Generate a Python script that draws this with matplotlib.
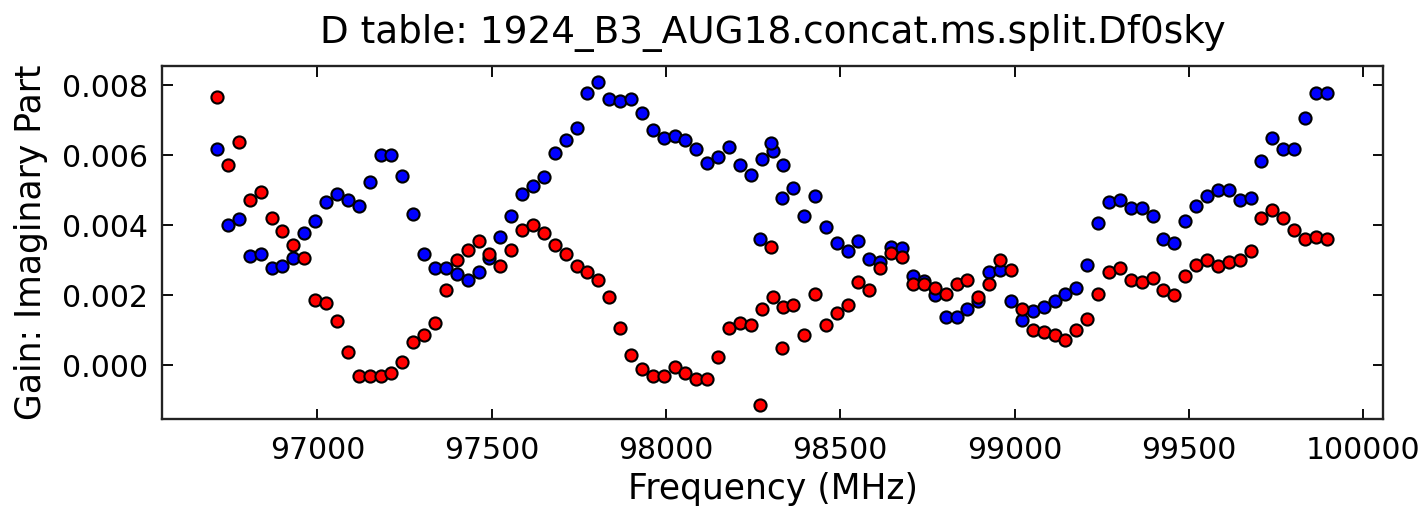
import matplotlib
matplotlib.use('Agg')
import matplotlib.pyplot as plt
from matplotlib.ticker import ScalarFormatter

# channel frequencies (MHz) of the two spectral windows
freq_spw0 = [
    96712.0, 96743.2, 96774.5, 96805.8, 96837.0, 96868.2, 96899.5, 96930.8,
    96962.0, 96993.2, 97024.5, 97055.8, 97087.0, 97118.2, 97149.5, 97180.8,
    97212.0, 97243.2, 97274.5, 97305.8, 97337.0, 97368.2, 97399.5, 97430.8,
    97462.0, 97493.2, 97524.5, 97555.8, 97587.0, 97618.2, 97649.5, 97680.8,
    97712.0, 97743.2, 97774.5, 97805.8, 97837.0, 97868.2, 97899.5, 97930.8,
    97962.0, 97993.2, 98024.5, 98055.8, 98087.0, 98118.2, 98149.5, 98180.8,
    98212.0, 98243.2, 98274.5, 98305.8, 98337.0,
]
freq_spw1 = [
    98271.0, 98302.2, 98333.5, 98364.8, 98396.0, 98427.2, 98458.5, 98489.8,
    98521.0, 98552.2, 98583.5, 98614.8, 98646.0, 98677.2, 98708.5, 98739.8,
    98771.0, 98802.2, 98833.5, 98864.8, 98896.0, 98927.2, 98958.5, 98989.8,
    99021.0, 99052.2, 99083.5, 99114.8, 99146.0, 99177.2, 99208.5, 99239.8,
    99271.0, 99302.2, 99333.5, 99364.8, 99396.0, 99427.2, 99458.5, 99489.8,
    99521.0, 99552.2, 99583.5, 99614.8, 99646.0, 99677.2, 99708.5, 99739.8,
    99771.0, 99802.2, 99833.5, 99864.8, 99896.0,
]

# imaginary part of D-term, units of 1e-3
blue_spw0 = [
    6.17, 4.00, 4.17, 3.12, 3.17, 2.78, 2.83, 3.06, 3.78, 4.11,
    4.67, 4.90, 4.72, 4.55, 5.24, 6.00, 6.00, 5.40, 4.33, 3.17,
    2.78, 2.78, 2.60, 2.44, 2.66, 3.06, 3.66, 4.27, 4.89, 5.11,
    5.39, 6.06, 6.44, 6.77, 7.77, 8.08, 7.61, 7.55, 7.61, 7.22,
    6.72, 6.49, 6.55, 6.44, 6.17, 5.78, 5.95, 6.23, 5.72, 5.44,
    5.89, 6.11, 5.72,
]
red_spw0 = [
    7.67, 5.72, 6.38, 4.72, 4.94, 4.22, 3.84, 3.44, 3.06, 1.88,
    1.77, 1.27, 0.39, -0.29, -0.29, -0.29, -0.22, 0.11, 0.67, 0.88,
    1.22, 2.16, 3.01, 3.29, 3.56, 3.17, 2.84, 3.29, 3.88, 4.00,
    3.78, 3.45, 3.17, 2.84, 2.66, 2.44, 1.95, 1.06, 0.29, -0.10,
    -0.29, -0.29, -0.05, -0.22, -0.40, -0.40, 0.23, 1.06, 1.22, 1.16,
    1.61, 1.94, 1.67,
]
blue_spw1 = [
    3.61, 6.34, 4.78, 5.06, 4.28, 4.84, 3.94, 3.50, 3.28, 3.56,
    3.05, 2.95, 3.39, 3.34, 2.55, 2.41, 2.00, 1.39, 1.39, 1.61,
    1.83, 2.66, 2.72, 1.83, 1.31, 1.55, 1.67, 1.83, 2.05, 2.22,
    2.88, 4.06, 4.67, 4.72, 4.49, 4.49, 4.28, 3.61, 3.50, 4.11,
    4.55, 4.84, 5.01, 5.01, 4.72, 4.78, 5.84, 6.50, 6.17, 6.17,
    7.06, 7.79, 7.79,
]
red_spw1 = [
    -1.12, 3.38, 0.50, 1.72, 0.88, 2.05, 1.16, 1.49, 1.72, 2.38,
    2.16, 2.78, 3.22, 3.11, 2.32, 2.32, 2.22, 2.05, 2.32, 2.44,
    1.94, 2.32, 3.01, 2.72, 1.61, 1.00, 0.94, 0.88, 0.72, 1.00,
    1.33, 2.05, 2.66, 2.78, 2.44, 2.38, 2.49, 2.16, 2.00, 2.55,
    2.88, 3.01, 2.84, 2.95, 3.01, 3.28, 4.22, 4.45, 4.22, 3.88,
    3.61, 3.66, 3.61,
]

title = 'D table: 1924_B3_AUG18.concat.ms.split.Df0sky'


def main():
    dpi = 168
    fig = plt.figure(figsize=(1419 / dpi, 507 / dpi), dpi=dpi)
    ax = fig.add_axes([0.1142, 0.1736, 0.8604, 0.6962])

    for freqs, xvals, yvals in [(freq_spw0, blue_spw0, red_spw0),
                                (freq_spw1, blue_spw1, red_spw1)]:
        ax.scatter(freqs, [v * 1e-3 for v in xvals], s=27, c='b',
                   edgecolors='k', linewidths=0.9, zorder=2)
        ax.scatter(freqs, [v * 1e-3 for v in yvals], s=27, c='r',
                   edgecolors='k', linewidths=0.9, zorder=3)

    ax.set_xlim(96554, 100057)
    ax.set_ylim(-0.00153, 0.00855)
    ax.set_yticks([0.0, 0.002, 0.004, 0.006, 0.008])
    ax.set_xticks([97000, 97500, 98000, 98500, 99000, 99500, 100000])
    fmt = ScalarFormatter(useOffset=False)
    ax.xaxis.set_major_formatter(fmt)

    ax.tick_params(direction='in', top=True, right=True, length=4.5,
                   width=0.8, labelsize=12.8)
    ax.tick_params(axis='x', pad=7.5)
    ax.tick_params(axis='y', pad=6)
    for sp in ax.spines.values():
        sp.set_linewidth(1.0)
        sp.set_color('#222222')

    ax.set_xlabel('Frequency (MHz)', fontsize=14.8, labelpad=3)
    ax.set_ylabel('Gain: Imaginary Part', fontsize=14.8, labelpad=6)
    ax.set_title(title, fontsize=16, pad=10)

    fig.savefig('out.png', dpi=dpi)


if __name__ == '__main__':
    main()
